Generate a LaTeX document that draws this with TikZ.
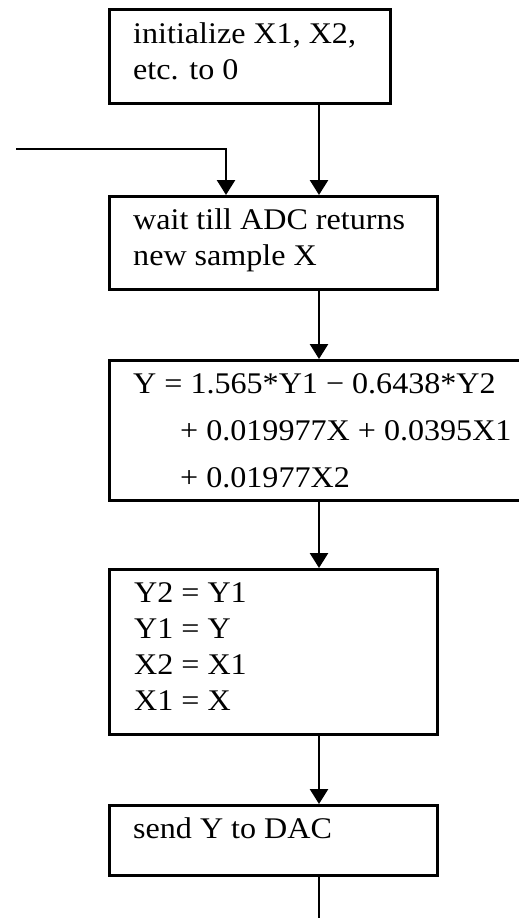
\documentclass[tikz,border=0pt]{standalone}
\usepackage{fontspec}
\setmainfont{Liberation Serif}[FakeStretch=1.07]
\usetikzlibrary{positioning,arrows.meta,calc}

\begin{document}
\begin{tikzpicture}[x=1pt,y=-1pt,
  box/.style={draw, line width=2.6pt, anchor=north west, inner sep=0pt},
  txt/.style={font=\fontsize{30}{36}\selectfont, align=left,
              anchor=base west, inner sep=0pt},
  arr/.style={-{Triangle[length=15pt,width=18pt]}, line width=2.6pt},
  wire/.style={line width=2.6pt},
]
\useasboundingbox (0,0) rectangle (519,918);

% main column and feedback column
\coordinate (spine) at (319,0);
\coordinate (feed)  at (226,0);
\coordinate (back)  at (16,149);
\coordinate (out)   at (319,918);

% boxes
\node[box, minimum width=281, minimum height=94]  (init) at (108,8)   {};
\node[box, minimum width=328, minimum height=93]  (wait) at (108,195) {};
\node[box, minimum width=520, minimum height=140] (filt) at (108,359) {};
\node[box, minimum width=328, minimum height=165] (shft) at (108,568) {};
\node[box, minimum width=328, minimum height=70]  (dac)  at (108,804) {};

% texts (placed at the baseline of their last line)
\node[txt] (tinit) at (133,79)  {initialize X1, X2,\\etc. to 0};
\node[txt] (twait) at (133,265) {wait till ADC returns\\new sample X};
\node[txt] (tfilt1) at (133,393) {Y = 1.565*Y1 − 0.6438*Y2};
\node[txt, font=\fontsize{30}{47}\selectfont] (tfilt2) at (180,487)
  {+ 0.019977X + 0.0395X1\\+ 0.01977X2};
\node[txt, font=\fontsize{30}{35.7}\selectfont] (tshft) at (134,710)
  {Y2 = Y1\\Y1 = Y\\X2 = X1\\X1 = X};
\node[txt] (tdac)  at (133,838) {send Y to DAC};

% connectors
\draw[arr] (init.south -| spine) -- (wait.north -| spine);
\draw[arr] (back) -| (wait.north -| feed);
\draw[arr] (wait.south -| spine) -- (filt.north -| spine);
\draw[arr] (filt.south -| spine) -- (shft.north -| spine);
\draw[arr] (shft.south -| spine) -- (dac.north -| spine);
\draw[wire] (dac.south -| spine) -- (out);
\end{tikzpicture}
\end{document}
